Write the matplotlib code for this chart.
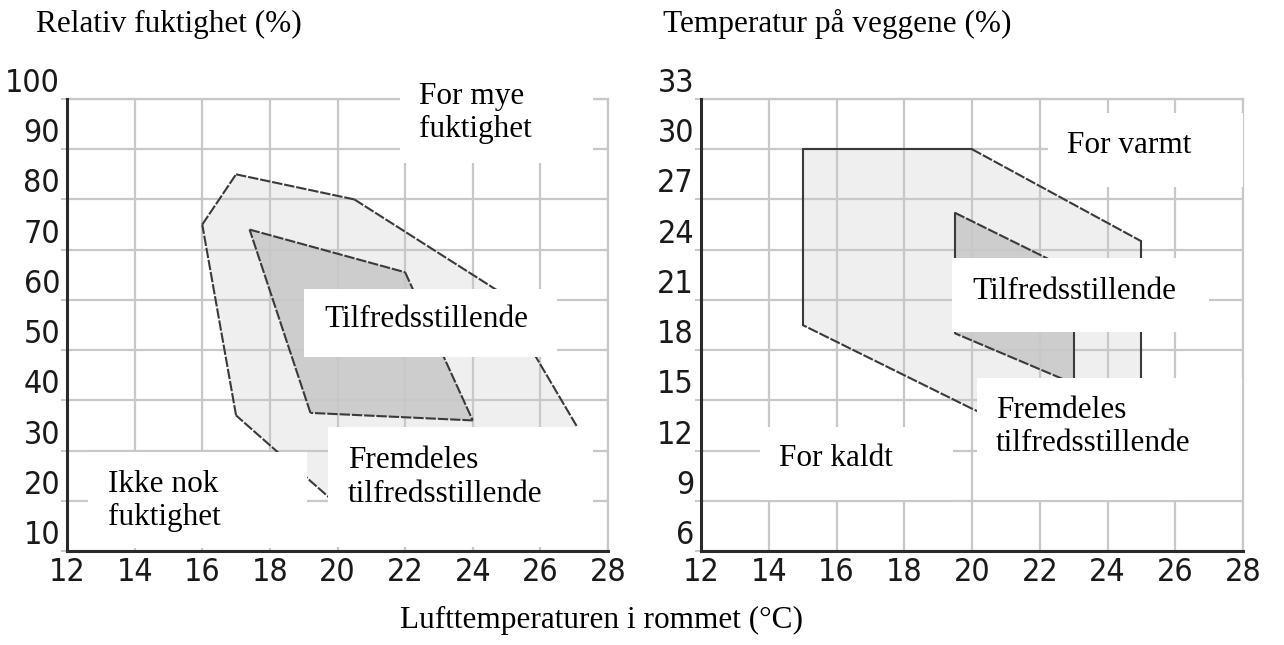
import numpy as np
import matplotlib.pyplot as plt
from matplotlib.patches import Polygon, Rectangle
from matplotlib.font_manager import FontProperties

# --- data -------------------------------------------------------------
temp_ticks = [12, 14, 16, 18, 20, 22, 24, 26, 28]
hum_ticks = [10, 20, 30, 40, 50, 60, 70, 80, 90, 100]
wall_ticks = [6, 9, 12, 15, 18, 21, 24, 27, 30, 33]

# relativ fuktighet (venstre diagram)
hum_outer_x = [16, 17, 20.5, 24.7, 27.5, 20.2, 17]
hum_outer_y = [75, 85, 80, 62, 30, 18, 37]
hum_inner_x = [17.4, 22, 24, 19.2]
hum_inner_y = [74, 65.5, 36, 37.5]

# temperatur på veggene (høyre diagram)
wall_outer_x = [15, 20, 25, 25, 20, 15]
wall_outer_y = [30, 30, 24.5, 10, 14.5, 19.5]
wall_inner_x = [19.5, 23, 23, 19.5]
wall_inner_y = [26.2, 22.7, 16, 19]

left_labels = ["For mye\nfuktighet", "Tilfredsstillende",
               "Ikke nok\nfuktighet", "Fremdeles\ntilfredsstillende"]
right_labels = ["For varmt", "Tilfredsstillende",
                "For kaldt", "Fremdeles\ntilfredsstillende"]

title_left = "Relativ fuktighet (%)"
title_right = "Temperatur på veggene (%)"
xlabel = "Lufttemperaturen i rommet (°C)"

# --- style ------------------------------------------------------------
SERIF = ["Liberation Serif", "DejaVu Serif"]
TICKFONT = FontProperties(family="DejaVu Sans", stretch="condensed", size=23)
GRID = "#c8c8c8"
EDGE = "#3a3a3a"
LIGHT = "#efefef"
DARK = "#cdcdcd"
W, H = 1284, 645


def draw_region(ax, xs, ys, fill):
    ax.add_patch(Polygon(np.column_stack([xs, ys]), closed=True,
                         facecolor=fill, edgecolor="none", zorder=1))
    n = len(xs)
    for i in range(n):
        x0, y0 = xs[i], ys[i]
        x1, y1 = xs[(i + 1) % n], ys[(i + 1) % n]
        line, = ax.plot([x0, x1], [y0, y1], color=EDGE, lw=1.5, zorder=3,
                        solid_capstyle="round", dash_capstyle="butt")
        if x0 != x1 and y0 != y1:
            line.set_dashes((5, 0.9))


def setup(ax, yticks):
    ax.set_xlim(temp_ticks[0], temp_ticks[-1])
    ax.set_ylim(yticks[0], yticks[-1])
    ax.set_xticks(temp_ticks)
    ax.set_yticks(yticks)
    ax.grid(True, color=GRID, lw=1.6)
    ax.set_axisbelow(False)
    for s in ["top", "right"]:
        ax.spines[s].set_color(GRID)
        ax.spines[s].set_linewidth(1.6)
    for s in ["left", "bottom"]:
        ax.spines[s].set_color("#2a2a2a")
        ax.spines[s].set_linewidth(2.2)
        ax.spines[s].set_zorder(6)
    ax.tick_params(axis="y", length=4.5, width=1.4, color=GRID, pad=0.5)
    ax.tick_params(axis="x", length=0, pad=4)
    for lbl in ax.get_xticklabels() + ax.get_yticklabels():
        lbl.set_fontproperties(TICKFONT)
        lbl.set_color("#1a1a1a")
    for lbl in ax.get_yticklabels():
        lbl.set_va("bottom")


def white_box(ax, x0, y0, x1, y1, text, tx, ty):
    ax.add_patch(Rectangle((x0, y0), x1 - x0, y1 - y0, facecolor="white",
                           edgecolor="none", zorder=5, clip_on=False))
    ax.text(tx, ty, text, family=SERIF, fontsize=22.5, ha="left",
            va="center", linespacing=1.2, zorder=7, color="black")


fig = plt.figure(figsize=(W / 100, H / 100), dpi=100)

ax1 = fig.add_axes([67 / W, 94 / H, 541 / W, 452 / H])
setup(ax1, hum_ticks)
draw_region(ax1, hum_outer_x, hum_outer_y, LIGHT)
draw_region(ax1, hum_inner_x, hum_inner_y, DARK)
white_box(ax1, 21.85, 87.3, 27.56, 106.8, left_labels[0], 22.4, 97.2)
white_box(ax1, 19.0, 48.7, 26.5, 62.2, left_labels[1], 19.6, 56.0)
white_box(ax1, 12.62, 10.6, 19.1, 29.7, left_labels[2], 13.2, 20.0)
white_box(ax1, 19.72, 10.8, 27.56, 34.7, left_labels[3], 20.3, 24.6)

ax2 = fig.add_axes([701 / W, 94 / H, 542 / W, 452 / H])
setup(ax2, wall_ticks)
draw_region(ax2, wall_outer_x, wall_outer_y, LIGHT)
draw_region(ax2, wall_inner_x, wall_inner_y, DARK)
white_box(ax2, 22.24, 27.74, 28.0, 32.16, right_labels[0], 22.8, 30.2)
white_box(ax2, 19.4, 19.08, 27.0, 23.5, right_labels[1], 20.0, 21.5)
white_box(ax2, 13.74, 9.05, 19.43, 13.4, right_labels[2], 14.3, 11.5)
white_box(ax2, 20.14, 9.05, 27.96, 16.33, right_labels[3], 20.7, 13.4)

fig.text(36 / W, 1 - 32 / H, title_left, family=SERIF, fontsize=22.5,
         ha="left", va="baseline")
fig.text(663 / W, 1 - 32 / H, title_right, family=SERIF, fontsize=22.5,
         ha="left", va="baseline")
fig.text(602 / W, 1 - 628 / H, xlabel, family=SERIF, fontsize=22.5,
         ha="center", va="baseline")

fig.savefig("out.png", dpi=100, facecolor="white")
